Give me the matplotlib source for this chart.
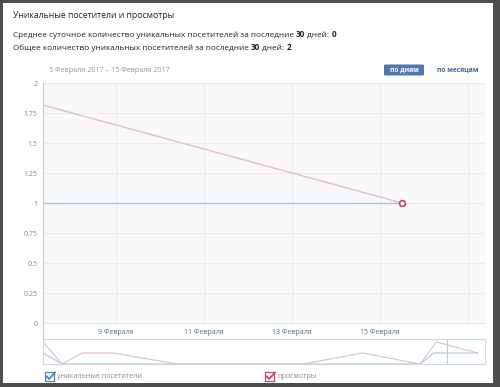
import matplotlib
matplotlib.use("Agg")
import matplotlib.pyplot as plt
from matplotlib.patches import Rectangle, FancyBboxPatch
from matplotlib.lines import Line2D
from matplotlib.text import Annotation

plt.rcParams['font.family'] = ['Open Sans', 'DejaVu Sans']

# main chart data (day of February)
views_days = [5.5, 15.5]
views = [2, 1]
visitors_days = [5.5, 15.5]
visitors = [1, 1]

x_ticks = [9, 11, 13, 15, 17]
x_tick_labels = ['9 Февраля', '11 Февраля', '13 Февраля', '15 Февраля', '']
y_ticks = [0, 0.25, 0.5, 0.75, 1, 1.25, 1.5, 1.75, 2]
y_tick_labels = ['0', '0.25', '0.5', '0.75', '1', '1.25', '1.5', '1.75', '2']

# navigator (whole period, day index 0..30)
nav_views_x = [0, 1.3, 2.65, 4.75, 9.1, 17.65, 21.7, 25.6, 26.7, 29.5]
nav_views = [2, 0, 1, 1, 0, 0, 1, 0, 2, 1]
nav_visitors_x = [0, 1.3, 25.6, 26.5, 29.5]
nav_visitors = [1, 0, 0, 1, 1]

PINK = '#e3bccb'
PINK_DARK = '#c8407a'
BLUE = '#adc6de'
BLUE_DARK = '#5181b8'

W, H = 500, 387


def fx(x):
    return x / W


def fy(y):
    return 1 - y / H


fig = plt.figure(figsize=(W / 100, H / 100), dpi=100)
fig.patch.set_facecolor('#4e4e4e')
fig.add_artist(Rectangle((fx(3), fy(383)), 490 / W, 380 / H, transform=fig.transFigure,
                         facecolor='white', edgecolor='none', zorder=0))


def write(parts, x, y, size, color):
    # chain text pieces so bold numbers follow the normal text
    last = None
    for text, weight in parts:
        if last is None:
            last = fig.text(fx(x), fy(y), text, fontsize=size, color=color,
                            fontweight=weight, ha='left', va='center')
        else:
            last = fig.add_artist(Annotation(
                text, xy=(1, 0), xycoords=last, fontsize=size, color=color,
                fontweight=weight, ha='left', va='bottom'))


write([('Уникальные посетители и просмотры', 'normal')], 13, 16, 6.2, '#222222')
write([('Среднее суточное количество уникальных посетителей за последние ', 'normal'),
       ('30', 'bold'), (' дней: ', 'normal'), ('0', 'bold')], 13, 35, 5.85, '#222222')
write([('Общее количество уникальных посетителей за последние ', 'normal'),
       ('30', 'bold'), (' дней: ', 'normal'), ('2', 'bold')], 13, 48, 5.85, '#222222')

fig.text(fx(49), fy(70), '5 Февраля 2017 – 15 Февраля 2017', fontsize=5.1,
         color='#959595', ha='left', va='center')

# period buttons
fig.add_artist(FancyBboxPatch((fx(384), fy(75.5)), 40 / W, 11 / H,
                              boxstyle='round,pad=0,rounding_size=0.003',
                              transform=fig.transFigure, facecolor='#4f79a8',
                              edgecolor='none'))
fig.text(fx(404), fy(70), 'по дням', fontsize=4.9, color='white',
         fontweight='bold', ha='center', va='center')
fig.text(fx(458), fy(70), 'по месяцам', fontsize=4.9, color='#45668e',
         fontweight='bold', ha='center', va='center')

# main chart
ax = fig.add_axes([fx(43), fy(323), 442 / W, 240 / H])
ax.set_facecolor('#f9f9f9')
ax.plot(visitors_days, visitors, color=BLUE, lw=1, zorder=3)
ax.plot(views_days, views, color=PINK, lw=1, zorder=3)
ax.plot(views_days[-1:], views[-1:], 'o', mfc='white', mec=PINK_DARK, ms=4.2,
        mew=1.2, zorder=4)
ax.set_xlim(7.341, 17.386)
ax.set_ylim(0, 2)
ax.set_xticks(x_ticks)
ax.set_xticklabels(x_tick_labels)
ax.set_yticks(y_ticks)
ax.set_yticklabels(y_tick_labels)
ax.tick_params(axis='x', length=0, pad=4.5, labelsize=5, labelcolor='#4f6f95')
ax.tick_params(axis='y', length=0, pad=4, labelsize=5, labelcolor='#7d8898')
ax.grid(True, color='#ebebeb', lw=0.8)
ax.set_axisbelow(True)
for s in ['top', 'right']:
    ax.spines[s].set_visible(False)
ax.spines['bottom'].set_color('#e6e6e6')
ax.spines['left'].set_color('#c3ccd6')

# navigator
nav = fig.add_axes([fx(43), fy(364), 442 / W, 25 / H])
nav.plot(nav_visitors_x, nav_visitors, color=BLUE, lw=0.8)
nav.plot(nav_views_x, nav_views, color=PINK, lw=0.8)
nav.axvline(27.4, color='#c3ccd6', lw=0.8)
nav.set_xlim(0, 30)
nav.set_ylim(0, 2.27)
nav.set_xticks([])
nav.set_yticks([])
for s in nav.spines.values():
    s.set_color('#cfd8e2')
    s.set_linewidth(0.8)

fig.add_artist(Line2D([fx(43), fx(43)], [fy(323), fy(340)], transform=fig.transFigure,
                      color='#c3ccd6', lw=0.8))


def checkbox(x, y, color, label):
    fig.add_artist(Rectangle((fx(x), fy(y + 9)), 9 / W, 9 / H, transform=fig.transFigure,
                             facecolor='white', edgecolor=color, lw=0.9))
    fig.add_artist(Line2D([fx(x + 1.8), fx(x + 4), fx(x + 10)],
                          [fy(y + 4.5), fy(y + 7), fy(y + 0.5)],
                          transform=fig.transFigure, color=color, lw=1.3))
    fig.text(fx(x + 12), fy(y + 5), label, fontsize=5.1, color='#8a8a8a',
             ha='left', va='center')


checkbox(45, 372, BLUE_DARK, 'уникальные посетители')
checkbox(265, 372, PINK_DARK, 'просмотры')

fig.savefig('out.png', dpi=100, facecolor=fig.get_facecolor())
